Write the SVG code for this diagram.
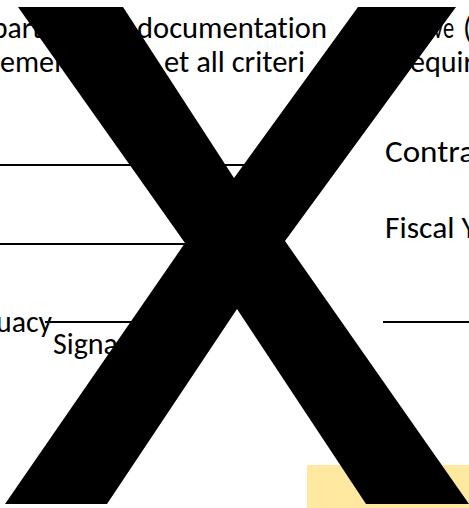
<svg xmlns="http://www.w3.org/2000/svg" width="469" height="508" viewBox="0 0 469 508">
  <style>
    .t { font-family: "Carlito", "Lato", "Liberation Sans", sans-serif; font-size: 30px; fill: #000; font-variant-ligatures: none; }
    .u { stroke: #000; stroke-width: 1.8; fill: none; }
  </style>
  <rect x="0" y="0" width="469" height="508" fill="#ffffff"/>
  <g id="text">
    <text class="t" x="-8" y="38" textLength="50" lengthAdjust="spacingAndGlyphs">part</text>
    <text class="t" x="137" y="38" textLength="190" lengthAdjust="spacingAndGlyphs">documentation</text>
    <text class="t" x="433" y="38" textLength="21" lengthAdjust="spacingAndGlyphs">ve</text>
    <text class="t" x="463" y="38">(</text>
    <text class="t" x="0" y="72" textLength="70" lengthAdjust="spacingAndGlyphs">emen</text>
    <text class="t" x="164" y="72" textLength="141" lengthAdjust="spacingAndGlyphs">et all criteri</text>
    <text class="t" x="410" y="72" textLength="64" lengthAdjust="spacingAndGlyphs">equir</text>
    <text class="t" x="385" y="162" textLength="90" lengthAdjust="spacingAndGlyphs">Contra</text>
    <text class="t" x="385" y="238" textLength="92" lengthAdjust="spacingAndGlyphs">Fiscal Y</text>
    <text class="t" x="-4" y="332" textLength="56" lengthAdjust="spacingAndGlyphs">uacy</text>
    <text class="t" x="53" y="354" textLength="65" lengthAdjust="spacingAndGlyphs">Signa</text>
  </g>
  <g id="lines">
    <line class="u" x1="0" y1="165" x2="300" y2="165"/>
    <line class="u" x1="0" y1="244" x2="200" y2="244"/>
    <line class="u" x1="45" y1="322" x2="200" y2="322"/>
    <line class="u" x1="383" y1="322" x2="469" y2="322"/>
  </g>
  <rect id="highlight" x="307" y="465" width="162" height="43" fill="#ffe9a1"/>
  <polygon id="x-mark" fill="#000" points="18,7 123,7 234,178 358,7 456,7 285,241 469,504 366,504 237,309 107,504 5,504 185,243"/>
</svg>
